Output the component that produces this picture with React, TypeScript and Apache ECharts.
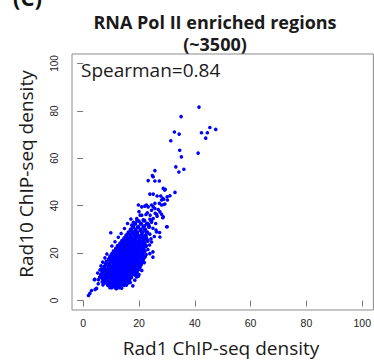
import React, { useEffect, useRef } from "react";
import * as echarts from "echarts";

const titleLines = ["RNA Pol II enriched regions", "(~3500)"];
const panelLabel = "(C)";
const statText = "Spearman=0.84";
const xTitle = "Rad1 ChIP-seq density";
const yTitle = "Rad10 ChIP-seq density";
const tickValues = [0, 20, 40, 60, 80, 100];

// Dense core, read row by row: [Rad10 density, Rad1 densities in that row]
const coreRows: [number, number[]][] = [
  [5.6, [10.2, 11.5, 12.9]],
  [6.5, [8.9, 10.0, 11.1, 12.3, 13.6, 14.6]],
  [7.6, [7.8, 9.3, 10.4, 11.5, 12.6, 13.7, 14.9, 16.2]],
  [8.7, [7.2, 8.4, 9.8, 10.9, 12.0, 13.1, 14.2, 15.3, 16.5]],
  [9.8, [6.6, 7.6, 8.9, 10.2, 11.4, 12.5, 13.6, 14.7, 15.9, 17.2]],
  [10.9, [6.4, 7.9, 9.2, 10.5, 11.8, 12.9, 14.0, 15.1, 16.3, 17.5, 18.6]],
  [12.0, [6.9, 8.3, 9.6, 10.8, 12.1, 13.3, 14.5, 15.6, 16.8, 18.0, 19.2]],
  [13.1, [6.7, 7.7, 8.8, 10.0, 11.3, 12.5, 13.7, 14.9, 16.1, 17.3, 18.5, 19.8]],
  [14.2, [7.6, 9.1, 10.4, 11.7, 12.9, 14.1, 15.3, 16.5, 17.7, 18.9, 20.3]],
  [15.3, [8.1, 9.4, 10.8, 12.1, 13.3, 14.5, 15.7, 16.9, 18.1, 19.4, 20.7]],
  [16.4, [8.4, 9.9, 11.2, 12.5, 13.7, 14.9, 16.1, 17.3, 18.5, 19.8, 21.2]],
  [17.5, [9.3, 10.5, 11.7, 12.9, 14.1, 15.3, 16.5, 17.7, 18.9, 20.2, 21.5]],
  [18.6, [9.7, 11.1, 12.3, 13.5, 14.7, 15.9, 17.1, 18.3, 19.5, 20.8, 22.1]],
  [19.7, [10.4, 11.6, 12.8, 14.0, 15.2, 16.4, 17.6, 18.8, 20.0, 21.3]],
  [20.8, [11.0, 12.3, 13.5, 14.7, 15.9, 17.1, 18.3, 19.5, 20.8, 22.0]],
  [21.9, [11.8, 13.0, 14.2, 15.4, 16.6, 17.8, 19.0, 20.3, 21.6]],
  [23.0, [12.4, 13.7, 14.9, 16.1, 17.3, 18.5, 19.8, 21.1, 22.5]],
  [24.1, [13.3, 14.5, 15.7, 16.9, 18.1, 19.4, 20.7, 22.0]],
  [25.2, [14.0, 15.3, 16.5, 17.8, 19.0, 20.3, 21.7, 23.1]],
  [26.3, [14.8, 16.1, 17.4, 18.7, 20.1, 21.4, 22.6]],
  [27.5, [15.5, 17.0, 18.4, 19.6, 21.0, 22.4]],
  [28.7, [16.3, 17.8, 19.3, 21.1, 22.9]],
  [29.9, [17.1, 18.8, 20.6, 22.2]],
  [31.1, [17.9, 19.7, 21.6, 23.6]],
  [32.4, [18.6, 20.7, 22.9]],
  [33.7, [19.4, 21.9, 24.4]],
];

// Scattered points around the core: [Rad1, Rad10]
const sparsePoints: [number, number][] = [
  [1.9, 2.1], [2.4, 3.0], [3.0, 4.2], [4.3, 4.7], [4.8, 5.1], [4.2, 8.9], [5.4, 7.1],
  [7.1, 6.6], [5.5, 8.8], [4.0, 8.8], [6.8, 7.8], [11.9, 5.0], [9.6, 5.4], [13.8, 5.2],
  [15.5, 6.5], [16.9, 7.6], [18.4, 12.0], [19.2, 9.9], [20.0, 11.0], [21.0, 12.7],
  [22.0, 18.3], [25.0, 18.3], [25.0, 20.5], [23.9, 19.8], [24.5, 24.7], [27.5, 26.8],
  [26.1, 29.7], [9.9, 28.6], [29.9, 31.1], [26.3, 28.9], [28.7, 35.3], [28.5, 34.9],
  [26.5, 35.6], [27.4, 28.7], [30.1, 31.1], [17.4, 31.8], [19.2, 34.6], [16.2, 28.2],
  [14.4, 25.4], [13.2, 23.3], [18.0, 33.0], [20.0, 33.5], [21.5, 34.0], [19.5, 31.0],
  [22.0, 31.5], [23.5, 32.0], [24.5, 33.0], [20.5, 29.5], [22.5, 29.0], [25.0, 30.5],
  [25.5, 27.0], [26.0, 32.5], [17.0, 30.0], [18.5, 29.0], [24.0, 36.0], [20.0, 37.5],
  [23.0, 37.0], [25.8, 36.8], [19.8, 40.3], [22.1, 39.8], [23.3, 39.5], [25.1, 39.5],
  [25.7, 38.8], [24.5, 38.1], [27.3, 41.0], [28.1, 40.3], [29.3, 40.7], [26.9, 38.4],
  [27.5, 37.4], [21.0, 36.0], [22.5, 36.3], [26.3, 36.4], [28.1, 36.4], [23.9, 34.3],
  [25.1, 34.6], [23.9, 44.9], [25.1, 44.9], [31.1, 44.2], [28.5, 43.1], [30.1, 43.8],
  [28.1, 42.4], [28.9, 40.5], [26.5, 44.1], [27.8, 44.1], [28.9, 42.7], [30.2, 42.4],
  [28.7, 47.3], [29.4, 46.9], [29.2, 46.6], [32.9, 45.6], [23.3, 50.6], [25.7, 50.4],
  [27.3, 50.4], [25.1, 52.2], [24.8, 52.7], [25.7, 54.8], [22.7, 40.3], [24.5, 40.3],
  [25.7, 41.0], [20.4, 36.0], [21.0, 39.5],
  [5.9, 9.9], [5.2, 11.6], [6.0, 12.9], [6.4, 14.6], [7.0, 16.2], [7.8, 18.0],
  [8.5, 19.6], [10.3, 23.0], [11.4, 24.8], [12.6, 26.7], [13.6, 28.3], [14.8, 30.4],
  [15.9, 32.5], [17.1, 34.4], [17.8, 6.2], [18.5, 8.6], [19.8, 10.3], [20.6, 14.8],
  [21.9, 16.0], [22.6, 19.4], [23.2, 21.5], [23.8, 23.4], [24.3, 26.0], [23.9, 28.0],
];

// High outliers: [Rad1, Rad10]
const outlierPoints: [number, number][] = [
  [41.5, 81.6], [35.1, 77.6], [32.7, 71.1], [34.4, 70.2], [31.4, 67.4], [45.4, 73.0],
  [47.5, 72.2], [42.4, 70.8], [44.5, 70.8], [43.9, 68.5], [41.2, 62.2], [34.6, 63.4],
  [35.2, 60.6], [33.2, 56.4], [36.1, 55.4], [34.3, 54.2],
];

export default function App() {
  const ref = useRef<HTMLDivElement>(null);
  useEffect(() => {
    if (!ref.current) return;
    const chart = echarts.init(ref.current, undefined, { renderer: "svg" });
    const corePoints: [number, number][] = [];
    coreRows.forEach(([y, xs]) => xs.forEach((x) => corePoints.push([x, y])));
    const axisCommon = {
      axisLine: { show: false },
      splitLine: { show: false },
      axisTick: {
        show: true,
        inside: false,
        length: 6,
        customValues: tickValues,
        lineStyle: { color: "#777", width: 1 },
      },
    };
    chart.setOption({
      animation: false,
      grid: {
        left: 72,
        top: 54,
        width: 302,
        height: 256,
        show: true,
        borderColor: "#8a8a8a",
        borderWidth: 1,
        backgroundColor: "transparent",
      },
      xAxis: {
        type: "value",
        min: -4,
        max: 104,
        ...axisCommon,
        axisLabel: {
          customValues: tickValues,
          margin: 7,
          fontFamily: "Liberation Sans",
          fontSize: 10.5,
          color: "#222",
        },
      },
      yAxis: {
        type: "value",
        min: -4,
        max: 104,
        ...axisCommon,
        axisLabel: {
          customValues: tickValues,
          rotate: 90,
          margin: 13,
          fontFamily: "Liberation Sans",
          fontSize: 10,
          color: "#222",
        },
      },
      series: [
        {
          type: "scatter",
          data: corePoints,
          symbol: "circle",
          symbolSize: 4.4,
          itemStyle: { color: "#0000ff", opacity: 1 },
          silent: true,
        },
        {
          type: "scatter",
          data: [...sparsePoints, ...outlierPoints],
          symbol: "circle",
          symbolSize: 3.6,
          itemStyle: { color: "#0000ff", opacity: 1 },
          silent: true,
        },
      ],
      graphic: [
        {
          type: "text",
          x: 13,
          y: -3,
          style: {
            text: panelLabel,
            font: "bold 22px 'Open Sans'",
            fill: "#111",
            align: "left",
            verticalAlign: "middle",
          },
        },
        {
          type: "text",
          x: 215,
          y: 22,
          style: {
            text: titleLines[0],
            font: "bold 18px 'Open Sans'",
            fill: "#1a1a1a",
            align: "center",
            verticalAlign: "middle",
          },
        },
        {
          type: "text",
          x: 215,
          y: 44,
          style: {
            text: titleLines[1],
            font: "bold 18px 'Open Sans'",
            fill: "#1a1a1a",
            align: "center",
            verticalAlign: "middle",
          },
        },
        {
          type: "text",
          x: 81,
          y: 70,
          style: {
            text: statText,
            font: "19px 'Open Sans'",
            fill: "#1a1a1a",
            align: "left",
            verticalAlign: "middle",
          },
        },
        {
          type: "text",
          x: 221,
          y: 348,
          style: {
            text: xTitle,
            font: "19px 'Open Sans'",
            fill: "#1a1a1a",
            align: "center",
            verticalAlign: "middle",
          },
        },
        {
          type: "text",
          x: 26,
          y: 174,
          rotation: Math.PI / 2,
          style: {
            text: yTitle,
            font: "19px 'Open Sans'",
            fill: "#1a1a1a",
            align: "center",
            verticalAlign: "middle",
          },
        },
      ],
    });
    return () => chart.dispose();
  }, []);
  return <div ref={ref} style={{ width: 374, height: 360, position: "absolute", left: 0, top: 0 }} />;
}
